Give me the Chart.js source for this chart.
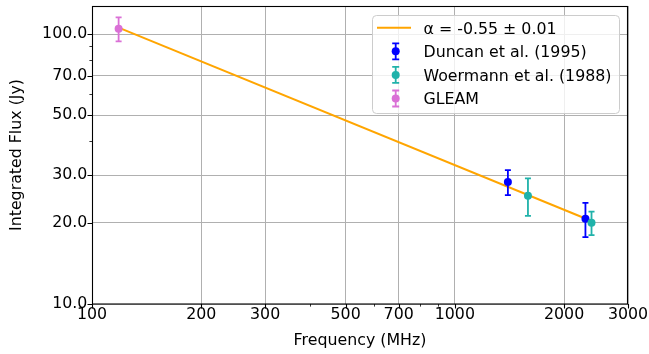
<!doctype html>
<html lang="en">
<head>
  <meta charset="utf-8">
  <title>Integrated flux spectrum</title>
  <script src="https://cdn.jsdelivr.net/npm/chart.js"></script>
  <style>
    html,body{margin:0;padding:0;background:#fff;}
    #wrap{width:649px;height:354px;}
  </style>
</head>
<body>
  <div id="wrap"><canvas id="chart" width="649" height="354"></canvas></div>

  <script>
    /* ─── data ─── */
    const duncanFreq   = [1400, 2290];
    const duncanFlux   = [28.3, 20.7];
    const duncanErr    = [3.0, 3.0];

    const woermannFreq = [1590, 2380];
    const woermannFlux = [25.2, 20.0];
    const woermannErr  = [4.0, 2.0];

    const gleamFreq    = [118.4];
    const gleamFlux    = [104.6];
    const gleamErr     = [10.6];

    const fitFreq      = [118.4, 2380];
    const fitFlux      = [105.6, 20.3];
    const fitLabel     = 'α = -0.55 ± 0.01';

    const xTicks = [100,200,300,500,700,1000,2000,3000];
    const xMinor = [400,600,800,900];
    const yTicks = [10,20,30,50,70,100];
    const yMinor = [40,60,80,90];

    /* ─── style ─── */
    const FONT   = 'DejaVu Sans';
    const FSIZE  = 15.8;
    const ORANGE = '#ffa500';
    const BLUE   = '#0000ff';
    const TEAL   = '#20b2aa';
    const ORCHID = '#da70d6';

    const pts=(f,s)=>f.map((v,i)=>({x:v,y:s[i]}));

    // error bars drawn just before each scatter set, so markers sit on top
    const errorBarPlugin={
      id:'errorBars',
      beforeDatasetDraw(chart,args){
        const ds=chart.data.datasets[args.index];
        if(!ds.err)return;
        const {ctx,scales:{x,y}}=chart;
        ctx.save();
        ctx.strokeStyle=ds.borderColor;
        ctx.lineWidth=1.8;
        ds.data.forEach((p,i)=>{
          const px=x.getPixelForValue(p.x);
          const top=y.getPixelForValue(p.y+ds.err[i]);
          const bot=y.getPixelForValue(p.y-ds.err[i]);
          ctx.beginPath();
          ctx.moveTo(px,top);ctx.lineTo(px,bot);
          ctx.moveTo(px-3,top);ctx.lineTo(px+3,top);
          ctx.moveTo(px-3,bot);ctx.lineTo(px+3,bot);
          ctx.stroke();
        });
        ctx.restore();
      }
    };

    // frame, tick marks and the legend box
    const framePlugin={
      id:'frame',
      afterDraw(chart){
        const {ctx,chartArea:{left,right,top,bottom},scales:{x,y}}=chart;
        ctx.save();
        ctx.strokeStyle='#000';

        // tick marks (outward)
        const tick=(vals,len,w)=>{
          ctx.lineWidth=w;
          ctx.beginPath();
          vals.forEach(v=>{
            const px=Math.round(x.getPixelForValue(v))+0.5;
            ctx.moveTo(px,bottom);ctx.lineTo(px,bottom+len);
          });
          ctx.stroke();
        };
        const ytick=(vals,len,w)=>{
          ctx.lineWidth=w;
          ctx.beginPath();
          vals.forEach(v=>{
            const py=Math.round(y.getPixelForValue(v))+0.5;
            ctx.moveTo(left,py);ctx.lineTo(left-len,py);
          });
          ctx.stroke();
        };
        tick(xTicks,4.5,1.1);  tick(xMinor,2.6,0.8);
        ytick(yTicks,4.5,1.1); ytick(yMinor,2.6,0.8);

        // spines
        ctx.lineWidth=1.1;
        ctx.strokeRect(left+0.5,top+0.5,right-left-1,bottom-top-0.5);

        // legend
        const L={x:372,y:15,w:247,h:98};
        ctx.beginPath();
        ctx.roundRect(L.x+0.5,L.y+0.5,L.w,L.h,4);
        ctx.fillStyle='rgba(255,255,255,0.8)';
        ctx.fill();
        ctx.strokeStyle='#cccccc';
        ctx.lineWidth=1;
        ctx.stroke();

        const hx=395.7, tx=423.5, base0=33.5, step=23.6;
        chart.data.datasets.forEach((ds,i)=>{
          const base=base0+i*step, cy=base-5.8;
          if(ds.err){
            ctx.strokeStyle=ds.borderColor;
            ctx.lineWidth=1.8;
            ctx.beginPath();
            ctx.moveTo(hx,cy-8);ctx.lineTo(hx,cy+8);
            ctx.moveTo(hx-3.5,cy-8);ctx.lineTo(hx+3.5,cy-8);
            ctx.moveTo(hx-3.5,cy+8);ctx.lineTo(hx+3.5,cy+8);
            ctx.stroke();
            ctx.fillStyle=ds.backgroundColor;
            ctx.beginPath();ctx.arc(hx,cy,4,0,Math.PI*2);ctx.fill();
          }else{
            ctx.strokeStyle=ds.borderColor;
            ctx.lineWidth=2;
            ctx.beginPath();ctx.moveTo(377,cy);ctx.lineTo(411,cy);ctx.stroke();
          }
          ctx.fillStyle='#000';
          ctx.font=`${FSIZE}px "${FONT}"`;
          ctx.textAlign='left';
          ctx.textBaseline='alphabetic';
          ctx.fillText(ds.label,tx,base);
        });
        ctx.restore();
      }
    };

    const tickFont={family:FONT,size:FSIZE};

    new Chart(document.getElementById('chart'),{
      type:'scatter',
      data:{datasets:[
        {label:fitLabel,data:pts(fitFreq,fitFlux),showLine:true,
         borderColor:ORANGE,backgroundColor:ORANGE,borderWidth:2,pointRadius:0,order:10},
        {label:'Duncan et al. (1995)',data:pts(duncanFreq,duncanFlux),err:duncanErr,
         borderColor:BLUE,backgroundColor:BLUE,pointRadius:4,borderWidth:0,order:3},
        {label:'Woermann et al. (1988)',data:pts(woermannFreq,woermannFlux),err:woermannErr,
         borderColor:TEAL,backgroundColor:TEAL,pointRadius:4,borderWidth:0,order:2},
        {label:'GLEAM',data:pts(gleamFreq,gleamFlux),err:gleamErr,
         borderColor:ORCHID,backgroundColor:ORCHID,pointRadius:4,borderWidth:0,order:1}
      ]},
      options:{
        responsive:false,animation:false,
        layout:{padding:{left:0,right:21,top:6,bottom:0}},
        plugins:{legend:{display:false},tooltip:{enabled:false}},
        scales:{
          x:{
            type:'logarithmic',min:100,max:3000,
            afterBuildTicks:s=>{s.ticks=xTicks.map(v=>({value:v}));},
            afterFit:s=>{s.height=50;s.paddingLeft=0;s.paddingRight=0;},
            grid:{color:'#b0b0b0',lineWidth:1,drawTicks:false},
            border:{display:false},
            ticks:{autoSkip:false,maxRotation:0,minRotation:0,padding:1.7,
                   color:'#000',font:tickFont,callback:v=>String(v)},
            title:{display:true,text:'Frequency (MHz)',color:'#000',font:tickFont,
                   padding:{top:0,bottom:3.9}}
          },
          y:{
            type:'logarithmic',min:10,max:127,
            afterBuildTicks:s=>{s.ticks=yTicks.map(v=>({value:v}));},
            afterFit:s=>{s.width=92;s.paddingTop=0;s.paddingBottom=0;},
            grid:{color:'#b0b0b0',lineWidth:1,drawTicks:false},
            border:{display:false},
            ticks:{autoSkip:false,padding:4.7,color:'#000',font:tickFont,
                   callback:v=>Number(v).toFixed(1)},
            title:{display:true,text:'Integrated Flux (Jy)',color:'#000',font:tickFont,
                   padding:{top:7.5,bottom:0}}
          }
        }
      },
      plugins:[errorBarPlugin,framePlugin]
    });
  </script>
</body>
</html>
